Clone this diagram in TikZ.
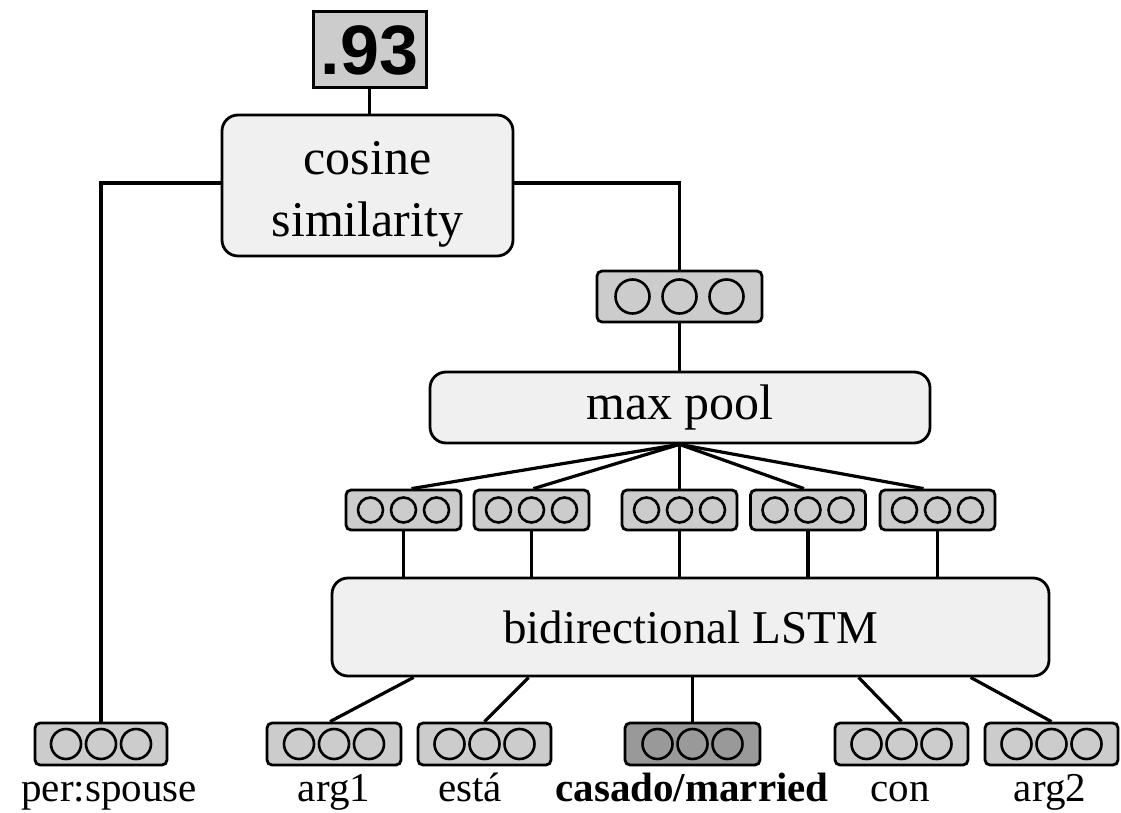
\documentclass[tikz,border=0pt]{standalone}
\usepackage{fontspec}
\setmainfont{Liberation Serif}
\newfontfamily\numfont{Liberation Sans}
\usetikzlibrary{calc}
\begin{document}
\begin{tikzpicture}[x=1pt,y=-1pt,
  box/.style={draw=black, fill=gray!12, rounded corners=16pt, line width=2.8pt, font=\fontsize{50}{62}\selectfont, align=center, inner sep=0pt},
  vecbox/.style={draw=black, fill=gray!40, rounded corners=5pt, line width=2.8pt, inner sep=0pt},
  dot/.style={draw=black, line width=2.6pt, fill=none},
  lab/.style={font=\fontsize{41}{46}\selectfont, anchor=base, inner sep=0pt},
  conn/.style={draw=black, line width=3.2pt}
]
\useasboundingbox (0,0) rectangle (1121,813);
\fill[white] (0,0) rectangle (1121,813);

% vector node macro: name, cx, cy, w, h, r, fill, spacing
\newcommand{\vecnode}[8]{%
  \node[vecbox, fill=#7, minimum width=#4pt, minimum height=#5pt] (#1) at (#2,#3) {};
  \foreach \dx in {-1,0,1} {\draw[dot] ($(#1.center)+(\dx*#8,0)$) circle (#6pt);}
}

% score
\node[draw=black, fill=gray!40, line width=3pt, minimum width=113pt, minimum height=76pt, inner sep=0pt, font=\numfont\bfseries\fontsize{70}{70}\selectfont] (score) at (369.5,50) {.93};

% cosine
\node[box, minimum width=291pt, minimum height=141pt] (cos) at (367.5,185.5) {\raisebox{-14pt}[0pt][0pt]{\begin{tabular}{@{}c@{}}cosine\\similarity\end{tabular}}};

% vectors
\vecnode{top}{679.5}{296.5}{165}{51}{17}{gray!40}{47}
\node[box, minimum width=500pt, minimum height=71pt] (max) at (680,407.5) {max pool};
\vecnode{h1}{403.5}{510}{115}{40}{12.5}{gray!40}{33}
\vecnode{h2}{531.5}{510}{115}{40}{12.5}{gray!40}{33}
\vecnode{h3}{679.5}{510}{115}{40}{12.5}{gray!40}{33}
\vecnode{h4}{808}{510}{115}{40}{12.5}{gray!40}{33}
\vecnode{h5}{937.5}{510}{115}{40}{12.5}{gray!40}{33}
\node[box, minimum width=717pt, minimum height=98pt, font=\fontsize{47}{56}\selectfont] (lstm) at (690.5,627) {bidirectional LSTM};

\vecnode{rel}{101}{744}{132}{42}{15}{gray!40}{35}
\vecnode{w1}{334}{744}{134}{42}{15}{gray!40}{35}
\vecnode{w2}{484.5}{744}{133}{42}{15}{gray!40}{35}
\vecnode{w3}{692.5}{744}{135}{42}{15}{gray!80}{35}
\vecnode{w4}{901.5}{744}{133}{42}{15}{gray!40}{35}
\vecnode{w5}{1051.5}{744}{133}{42}{15}{gray!40}{35}

% labels
\node[lab] (l0) at (109,801) {per:spouse};
\node[lab] (l1) at (334,801) {arg1};
\node[lab] (l2) at (470,801) {está};
\node[lab, font=\fontsize{41}{46}\selectfont\bfseries] (l3) at (692,801) {casado/married};
\node[lab] (l4) at (900,801) {con};
\node[lab] (l5) at (1050,801) {arg2};

% connectors
\draw[conn] (score.south) -- (cos.north -| score.south);
\draw[conn] (cos.west |- 0,183) -| (rel.north);
\draw[conn] (cos.east |- 0,183) -| (top.north);
\draw[conn] (top.south) -- (max.north -| top.south);
\coordinate (mp) at (max.south -| top.south);
\draw[conn] (mp) -- ($(h1.north)+(8,0)$);
\draw[conn] (mp) -- ($(h2.north)+(2,0)$);
\draw[conn] (mp) -- (h3.north);
\draw[conn] (mp) -- ($(h4.north)-(4,0)$);
\draw[conn] (mp) -- ($(h5.north)-(14,0)$);
\foreach \n in {h1,h2,h3,h4,h5} {\draw[conn] (\n.south) -- (lstm.north -| \n.south);}
\draw[conn] ($(lstm.south west)+(83,0)$) -- ($(w1.north)+(-4,0)$);
\draw[conn] ($(lstm.south west)+(198,0)$) -- (w2.north);
\draw[conn] (lstm.south -| w3.north) -- (w3.north);
\draw[conn] ($(lstm.south west)+(528,0)$) -- (w4.north);
\draw[conn] ($(lstm.south west)+(640,0)$) -- (w5.north);
\end{tikzpicture}
\end{document}
